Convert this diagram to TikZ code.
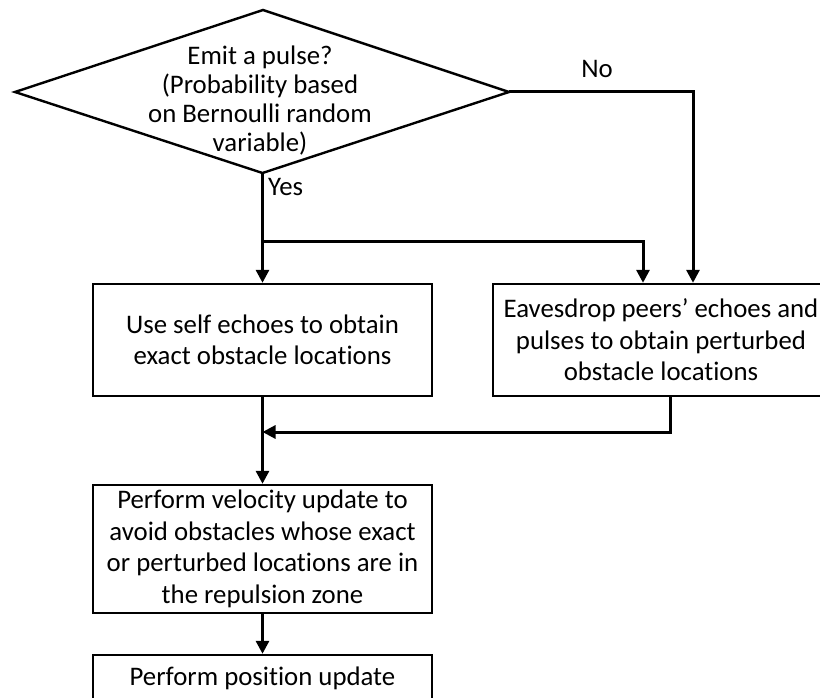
\documentclass[tikz,border=0pt]{standalone}
\usepackage{fontspec}
\setmainfont{Carlito}[RawFeature={-liga}]
\usetikzlibrary{arrows.meta,calc}
\begin{document}
\begin{tikzpicture}[x=1pt,y=-1pt,
  every node/.style={font=\fontsize{26.8}{31.5}\selectfont},
  box/.style={draw, line width=2.4pt, align=center, inner sep=0pt},
  arr/.style={line width=3pt, -{Triangle[width=13pt,length=13pt]}},
  ln/.style={line width=3pt}]
\useasboundingbox (0,0) rectangle (820,698);
\clip (0,0) rectangle (820,698);
% decision diamond
\coordinate (dL) at (15,92);
\coordinate (dT) at (263,10);
\coordinate (dR) at (509,92);
\coordinate (dB) at (262.5,173);
\draw[line width=2.4pt, line join=miter] (dL) -- (dT) -- (dR) -- (dB) -- cycle;
\node[align=center, font=\fontsize{26.8}{29}\selectfont] (q) at (260,100.5) {Emit a pulse?\\(Probability based\\on Bernoulli random\\variable)};
% boxes
\node[box, minimum width=339pt, minimum height=112pt] (self) at (262.5,340) {Use self echoes to obtain\\exact obstacle locations};
\node[box, minimum width=336pt, minimum height=112pt] (eaves) at (661,340) {Eavesdrop peers’ echoes and\\pulses to obtain perturbed\\obstacle locations};
\node[box, minimum width=339pt, minimum height=128pt] (vel) at (262.5,549) {Perform velocity update to\\avoid obstacles whose exact\\or perturbed locations are in\\the repulsion zone};
\node[box, minimum width=339pt, minimum height=46pt] (pos) at (262.5,678) {Perform position update};
% labels
\node (no) at (597,69) {No};
\node[anchor=west, inner sep=0pt] (yes) at (268,187) {Yes};
% helper coordinates
\coordinate (yesj) at (262.5,241);
\coordinate (eIn1) at ($(eaves.north)+(-18,0)$);
\coordinate (eIn2) at ($(eaves.north)+(32,0)$);
\coordinate (eOut) at ($(eaves.south)+(9,0)$);
\coordinate (merge) at (262.5,432);
% connectors
\draw[arr] (dB) -- (self.north);
\draw[arr] (dR) -| (eIn2);
\draw[arr] (yesj) -| (eIn1);
\draw[arr] (eOut) |- (merge);
\draw[ln] (self.south) -- (merge);
\draw[arr] (merge) -- (vel.north);
\draw[arr] (vel.south) -- (pos.north);
\end{tikzpicture}
\end{document}
